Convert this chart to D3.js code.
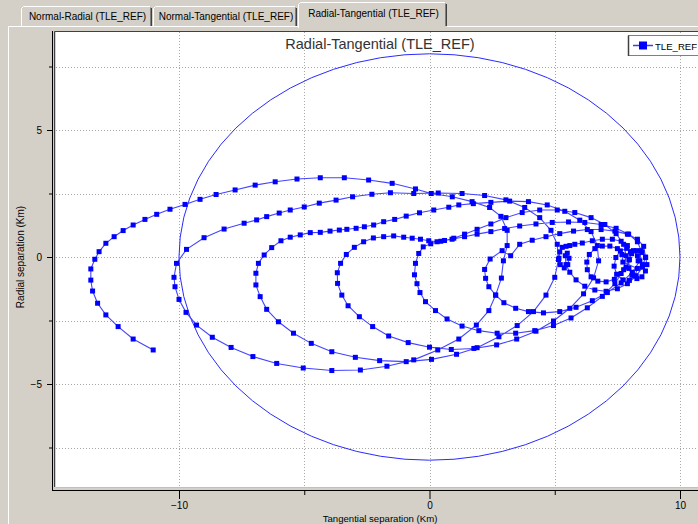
<!DOCTYPE html>
<html>
<head>
<meta charset="utf-8">
<script src="https://cdnjs.cloudflare.com/ajax/libs/d3/7.8.5/d3.min.js"></script>
<style>
  body { margin: 0; background: #d4d0c8; overflow: hidden; }
  svg { display: block; font-family: "Liberation Sans", Arial, sans-serif; }
</style>
</head>
<body>
<svg id="chart" width="698" height="524"></svg>
<script>
// tabs of the window
const tabNames = ["Normal-Radial (TLE_REF)", "Normal-Tangential (TLE_REF)", "Radial-Tangential (TLE_REF)"];
const selectedTab = 2;

const chartTitle = "Radial-Tangential (TLE_REF)";
const seriesName = "TLE_REF";
const xTitle = "Tangential separation (Km)";
const yTitle = "Radial separation (Km)";

const xMajorTicks = [-10, 0, 10];
const xMinorTicks = [-5, 5];
const xGrid = [-10, -5, 0, 5, 10];
const yMajorTicks = [-5, 0, 5];
const yMinorTicks = [-7.5, -2.5, 2.5, 7.5];
const yGrid = [-7.5, -5, -2.5, 0, 2.5, 5, 7.5];

// keep-out ellipse (tangential / radial semi axes, km)
const ellipseT = 10;
const ellipseR = 8;

// relative track, [tangential, radial] in km, one array per revolution
const rev0 = [[8.68,-0.3],[8.63,-0.02],[8.48,0.18],[8.27,0.25],[8.07,0.13],[7.96,-0.12],[7.96,-0.45],[8.08,-0.72],
  [8.28,-0.85],[8.48,-0.78],[8.62,-0.55],[8.5,-0.3],[8.33,-0.15],[8.3,0.05],[8.14,0.25],[7.88,0.34],[7.62,0.24],
  [7.44,-0.02],[7.37,-0.36],[7.47,-0.68],[7.72,-0.9],[7.98,-0.92],[8.2,-0.74],[8.3,-0.45]];
const rev1 = [[7.72,-0.2],[7.68,0.1],[7.5,0.33],[7.2,0.43],[6.9,0.43],[6.6,0.33],[6.38,0.1],[6.28,-0.2],[6.3,-0.5],
  [6.45,-0.78],[6.72,-0.95],[7.05,-0.98],[7.38,-0.88],[7.65,-0.65],[7.85,-0.4],[7.98,-0.1],[8.02,0.2]];
const rev2 = [[7.9,0.45],[7.65,0.62],[7.3,0.7],[6.9,0.7],[6.5,0.64],[6.1,0.55],[5.8,0.5],[5.6,0.45],[5.45,0.42],
  [5.3,0.38],[5.2,0.2],[5.17,-0.05],[5.22,-0.3],[5.38,-0.43],[5.52,-0.3],[5.57,-0.05],[5.5,0.15],[5.42,0.05],
  [5.45,-0.3],[5.6,-0.6],[5.85,-0.9],[6.2,-1.15],[6.6,-1.3],[7.05,-1.35],[7.5,-1.25],[7.9,-1.05],[8.25,-0.75],
  [8.5,-0.4],[8.62,0.0]];
const rev3 = [[8.55,0.42],[8.3,0.7],[7.9,0.9],[7.4,1.02],[6.85,1.08],[6.3,1.08],[5.75,1.02],[5.2,0.92],[4.65,0.8],
  [4.1,0.66],[3.6,0.5],[3.24,0.05],[2.9,0.25],[2.42,-0.08],[2.2,-0.49],[2.24,-0.84],[2.37,-1.17],[2.64,-1.5],
  [2.97,-1.8],[3.44,-2.02],[3.95,-2.15],[4.55,-2.2],[5.2,-2.15],[5.85,-1.98],[6.5,-1.72],[7.1,-1.4],[7.65,-1.02],
  [8.1,-0.6],[8.4,-0.15],[8.45,0.25]];
const rev4 = [[8.3,0.6],[7.95,0.9],[7.45,1.13],[6.85,1.28],[6.2,1.36],[5.55,1.38],[4.9,1.36],[4.25,1.3],[3.6,1.22],
  [3.0,1.12],[2.45,1.0],[1.9,0.9],[1.4,0.8],[0.9,0.7],[0.45,0.62],[0.05,0.52],[-0.25,0.4],[-0.43,0.14],[-0.56,-0.25],
  [-0.6,-0.7],[-0.5,-1.05],[-0.38,-1.4],[-0.16,-1.76],[0.24,-2.11],[0.7,-2.44],[1.3,-2.72],[1.97,-2.9],[2.7,-3.0],
  [3.44,-3.0],[4.2,-2.9],[4.95,-2.7],[5.65,-2.4],[6.3,-2.0],[6.9,-1.55],[7.4,-1.05],[7.75,-0.5],[7.85,0.05]];
const rev5 = [[7.75,0.5],[7.45,0.92],[7.0,1.28],[6.45,1.55],[5.8,1.75],[5.1,1.85],[4.4,1.85],[3.7,1.75],[3.05,1.55],
  [2.45,1.3],[1.9,1.09],[1.4,0.9],[0.97,0.74],[0.6,0.65],[0.3,0.6],[-0.03,0.64],[-0.36,0.7],[-0.69,0.74],[-1.03,0.78],
  [-1.43,0.83],[-1.83,0.8],[-2.24,0.75],[-2.63,0.6],[-3.0,0.38],[-3.32,0.1],[-3.55,-0.25],[-3.68,-0.62],[-3.67,-1.04],
  [-3.5,-1.5],[-3.25,-1.92],[-2.8,-2.35],[-2.27,-2.74],[-1.63,-3.11],[-0.85,-3.37],[0.0,-3.55],[0.87,-3.64],
  [1.77,-3.6],[2.68,-3.46],[3.48,-3.23],[4.25,-2.92],[4.95,-2.52],[5.6,-2.02],[6.15,-1.45],[6.55,-0.82],[6.75,-0.15]];
const rev6 = [[6.7,0.45],[6.45,1.0],[6.0,1.45],[5.4,1.8],[4.7,2.05],[3.95,2.18],[3.2,2.2],[2.45,2.15],[1.75,2.1],
  [1.17,2.05],[0.77,1.96],[0.17,1.85],[-0.4,1.74],[-0.93,1.61],[-1.39,1.48],[-1.83,1.39],[-2.23,1.26],[-2.6,1.19],
  [-2.93,1.13],[-3.3,1.09],[-3.6,1.06],[-3.97,1.02],[-4.36,0.97],[-4.76,0.96],[-5.16,0.87],[-5.56,0.78],[-5.93,0.64],
  [-6.3,0.37],[-6.6,0.08],[-6.83,-0.25],[-6.93,-0.64],[-6.93,-1.1],[-6.76,-1.56],[-6.5,-2.06],[-6.03,-2.55],
  [-5.43,-3.0],[-4.72,-3.4],[-3.9,-3.73],[-2.96,-3.95],[-1.99,-4.08],[-0.93,-4.12],[0.08,-4.03],[1.08,-3.83],
  [1.9,-3.57],[2.77,-3.14],[3.5,-2.7],[4.15,-2.15],[4.65,-1.5],[5.0,-0.8],[5.15,-0.1]];
const rev7 = [[5.1,0.5],[4.85,1.05],[4.4,1.55],[3.8,1.95],[3.05,2.25],[2.2,2.42],[1.3,2.5],[0.35,2.52],[-0.63,2.5],
  [-1.56,2.53],[-2.3,2.47],[-3.07,2.37],[-3.73,2.24],[-4.4,2.12],[-5.0,1.97],[-5.56,1.85],[-6.0,1.73],[-6.5,1.59],
  [-6.9,1.46],[-7.4,1.33],[-8.2,1.1],[-9.0,0.76],[-9.7,0.3],[-10.1,-0.25],[-10.2,-0.8],[-10.16,-1.17],[-10.0,-1.67],
  [-9.72,-2.18],[-9.3,-2.68],[-8.67,-3.16],[-7.92,-3.56],[-7.05,-3.92],[-6.1,-4.19],[-5.04,-4.37],[-3.9,-4.47],
  [-2.76,-4.45],[-1.7,-4.3],[-0.63,-4.05],[0.33,-3.66],[1.17,-3.23],[1.87,-2.68],[2.37,-2.11],[2.64,-1.5],
  [2.87,-0.83],[2.95,-0.15]];
const rev8 = [[3.1,0.45],[3.1,1.05],[2.85,1.6],[2.4,1.95],[1.7,2.18],[0.91,2.37],[0.07,2.5],[-0.56,2.68],[-1.49,2.9],
  [-2.43,3.03],[-3.4,3.12],[-4.36,3.12],[-5.29,3.07],[-6.16,2.96],[-6.96,2.83],[-7.76,2.64],[-8.52,2.46],[-9.16,2.27],
  [-9.76,2.07],[-10.36,1.88],[-10.89,1.68],[-11.36,1.48],[-11.83,1.26],[-12.23,1.04],[-12.59,0.8],[-12.92,0.54],
  [-13.19,0.21],[-13.36,-0.09],[-13.52,-0.47],[-13.52,-0.91],[-13.45,-1.34],[-13.25,-1.82],[-12.92,-2.28],
  [-12.43,-2.74],[-11.83,-3.23],[-11.03,-3.66]];

const track = [].concat(rev0, rev1, rev2, rev3, rev4, rev5, rev6, rev7, rev8);

const svg = d3.select('#chart');
const W = 698, H = 524;
const bg = '#d4d0c8';

// plot frame
const plot = { left: 56, right: 704, top: 32, bottom: 487 };

const x = d3.scaleLinear().domain([-10, 10]).range([179, 680]);
const y = d3.scaleLinear().domain([-5, 5]).range([384, 130]);

// ---- tab strip
const tabX = [[21, 152], [153, 297], [298, 447]];
svg.append('rect').attr('x', 0).attr('y', 0).attr('width', W).attr('height', H).attr('fill', bg);
const tabs = svg.append('g');
tabNames.forEach((name, i) => {
	const [x0, x1] = tabX[i];
	const sel = i === selectedTab;
	const top = sel ? 2 : 6;
	const bottom = sel ? 28 : 26;
	tabs.append('rect').attr('x', x0).attr('y', top).attr('width', x1 - x0).attr('height', bottom - top).attr('fill', bg);
	tabs.append('path')
		.attr('d', `M${x0 + 0.5},${bottom} V${top + 2.5} L${x0 + 2.5},${top + 0.5} H${x1 - 2}`)
		.attr('fill', 'none').attr('stroke', '#fff');
	tabs.append('path')
		.attr('d', `M${x1 - 1.5},${top + 1.5} V${bottom - (sel ? 2 : 0)}`)
		.attr('fill', 'none').attr('stroke', '#808080');
	tabs.append('path')
		.attr('d', `M${x1 - 0.5},${top + 2} V${bottom - (sel ? 2 : 0)}`)
		.attr('fill', 'none').attr('stroke', '#404040');
	tabs.append('text')
		.attr('x', (x0 + x1) / 2 + 1).attr('y', sel ? 17 : 20)
		.attr('text-anchor', 'middle').attr('font-size', 10).attr('fill', '#000')
		.text(name);
});
// panel edge under the tabs
svg.append('path')
	.attr('d', `M8.5,${H} V26.5 H${tabX[selectedTab][0]} M${tabX[selectedTab][1]},26.5 H${W}`)
	.attr('fill', 'none').attr('stroke', '#fff');

// ---- plot area
svg.append('rect')
	.attr('x', plot.left).attr('y', plot.top)
	.attr('width', plot.right - plot.left).attr('height', plot.bottom - plot.top)
	.attr('fill', '#fff');
svg.append('path')
	.attr('d', `M${plot.left - 1.5},${plot.bottom} V${plot.top - 0.5} H${plot.right}`)
	.attr('fill', 'none').attr('stroke', '#404040');
svg.append('path')
	.attr('d', `M${plot.left},${plot.bottom + 0.5} H${plot.right}`)
	.attr('fill', 'none').attr('stroke', '#c0c0c0');

svg.append('defs').append('clipPath').attr('id', 'clip')
	.append('rect')
	.attr('x', plot.left).attr('y', plot.top)
	.attr('width', plot.right - plot.left).attr('height', plot.bottom - plot.top);

const grid = svg.append('g').attr('clip-path', 'url(#clip)');
grid.selectAll('line.vx').data(xGrid).join('line')
	.attr('x1', d => Math.round(x(d)) + 0.5).attr('x2', d => Math.round(x(d)) + 0.5)
	.attr('y1', plot.top).attr('y2', plot.bottom)
	.attr('stroke', '#a8a8a8').attr('stroke-dasharray', '1,2');
grid.selectAll('line.hy').data(yGrid).join('line')
	.attr('y1', d => Math.round(y(d)) + 0.5).attr('y2', d => Math.round(y(d)) + 0.5)
	.attr('x1', plot.left).attr('x2', plot.right)
	.attr('stroke', '#a8a8a8').attr('stroke-dasharray', '1,2');

const marks = svg.append('g').attr('clip-path', 'url(#clip)');
marks.append('ellipse')
	.attr('cx', x(0)).attr('cy', y(0))
	.attr('rx', x(ellipseT) - x(0)).attr('ry', y(0) - y(ellipseR))
	.attr('fill', 'none').attr('stroke', '#2a2aff').attr('stroke-width', 1);

const line = d3.line().x(d => x(d[0])).y(d => y(d[1]));
marks.append('path').datum(track)
	.attr('d', line)
	.attr('fill', 'none').attr('stroke', '#4444ff').attr('stroke-width', 1.1);
const ms = 5;
marks.selectAll('rect.pt').data(track).join('rect')
	.attr('x', d => x(d[0]) - ms / 2).attr('y', d => y(d[1]) - ms / 2)
	.attr('width', ms).attr('height', ms)
	.attr('fill', '#0000ff');

// title
svg.append('text')
	.attr('x', (plot.left + plot.right) / 2).attr('y', 49)
	.attr('text-anchor', 'middle').attr('font-size', 14.5).attr('fill', '#333')
	.text(chartTitle);

// legend
const lg = svg.append('g').attr('transform', 'translate(628,35)');
lg.append('rect').attr('x', 0.5).attr('y', 0.5).attr('width', 90).attr('height', 20)
	.attr('fill', '#fff').attr('stroke', '#808080');
lg.append('path').attr('d', 'M0.5,21 V0.5').attr('stroke', '#404040').attr('stroke-width', 1.5);
lg.append('line').attr('x1', 5).attr('x2', 25).attr('y1', 10.5).attr('y2', 10.5)
	.attr('stroke', '#3c3cff').attr('stroke-width', 1.5);
lg.append('rect').attr('x', 11).attr('y', 6.5).attr('width', 8).attr('height', 8).attr('fill', '#0000ff');
lg.append('text').attr('x', 27).attr('y', 14.5).attr('font-size', 9.6).attr('fill', '#000').text(seriesName);

// ---- axes
const axisY0 = 490;
const xAxisMajor = d3.axisBottom(x).tickValues(xMajorTicks).tickSize(9).tickPadding(3).tickFormat(d3.format('d'));
const xAxisMinor = d3.axisBottom(x).tickValues(xMinorTicks).tickSize(5).tickFormat('');
const gx = svg.append('g').attr('transform', `translate(0,${axisY0})`);
gx.append('line').attr('x1', plot.left - 4).attr('x2', plot.right).attr('y1', 0.5).attr('y2', 0.5).attr('stroke', '#000');
gx.append('g').call(xAxisMajor);
gx.append('g').call(xAxisMinor);
gx.selectAll('.domain').remove();
gx.selectAll('.tick line').attr('stroke', '#000');
gx.selectAll('.tick text').attr('font-size', 10).attr('fill', '#000').attr('font-family', '"Liberation Sans", Arial, sans-serif');

const axisX0 = 52;
const yAxisMajor = d3.axisLeft(y).tickValues(yMajorTicks).tickSize(5).tickPadding(5).tickFormat(d3.format('d'));
const yAxisMinor = d3.axisLeft(y).tickValues(yMinorTicks).tickSize(3).tickFormat('');
const gy = svg.append('g').attr('transform', `translate(${axisX0},0)`);
gy.append('line').attr('x1', 0.5).attr('x2', 0.5).attr('y1', plot.top - 1).attr('y2', plot.bottom + 3).attr('stroke', '#000');
gy.append('g').call(yAxisMajor);
gy.append('g').call(yAxisMinor);
gy.selectAll('.domain').remove();
gy.selectAll('.tick line').attr('stroke', '#000');
gy.selectAll('.tick text').attr('font-size', 10).attr('fill', '#000').attr('font-family', '"Liberation Sans", Arial, sans-serif');

svg.append('text')
	.attr('x', (plot.left + plot.right) / 2).attr('y', 521.5)
	.attr('text-anchor', 'middle').attr('font-size', 9.6).attr('fill', '#000')
	.text(xTitle);
svg.append('text')
	.attr('transform', `translate(24,${y(0)}) rotate(-90)`)
	.attr('text-anchor', 'middle').attr('font-size', 10).attr('fill', '#000')
	.text(yTitle);
</script>
</body>
</html>
